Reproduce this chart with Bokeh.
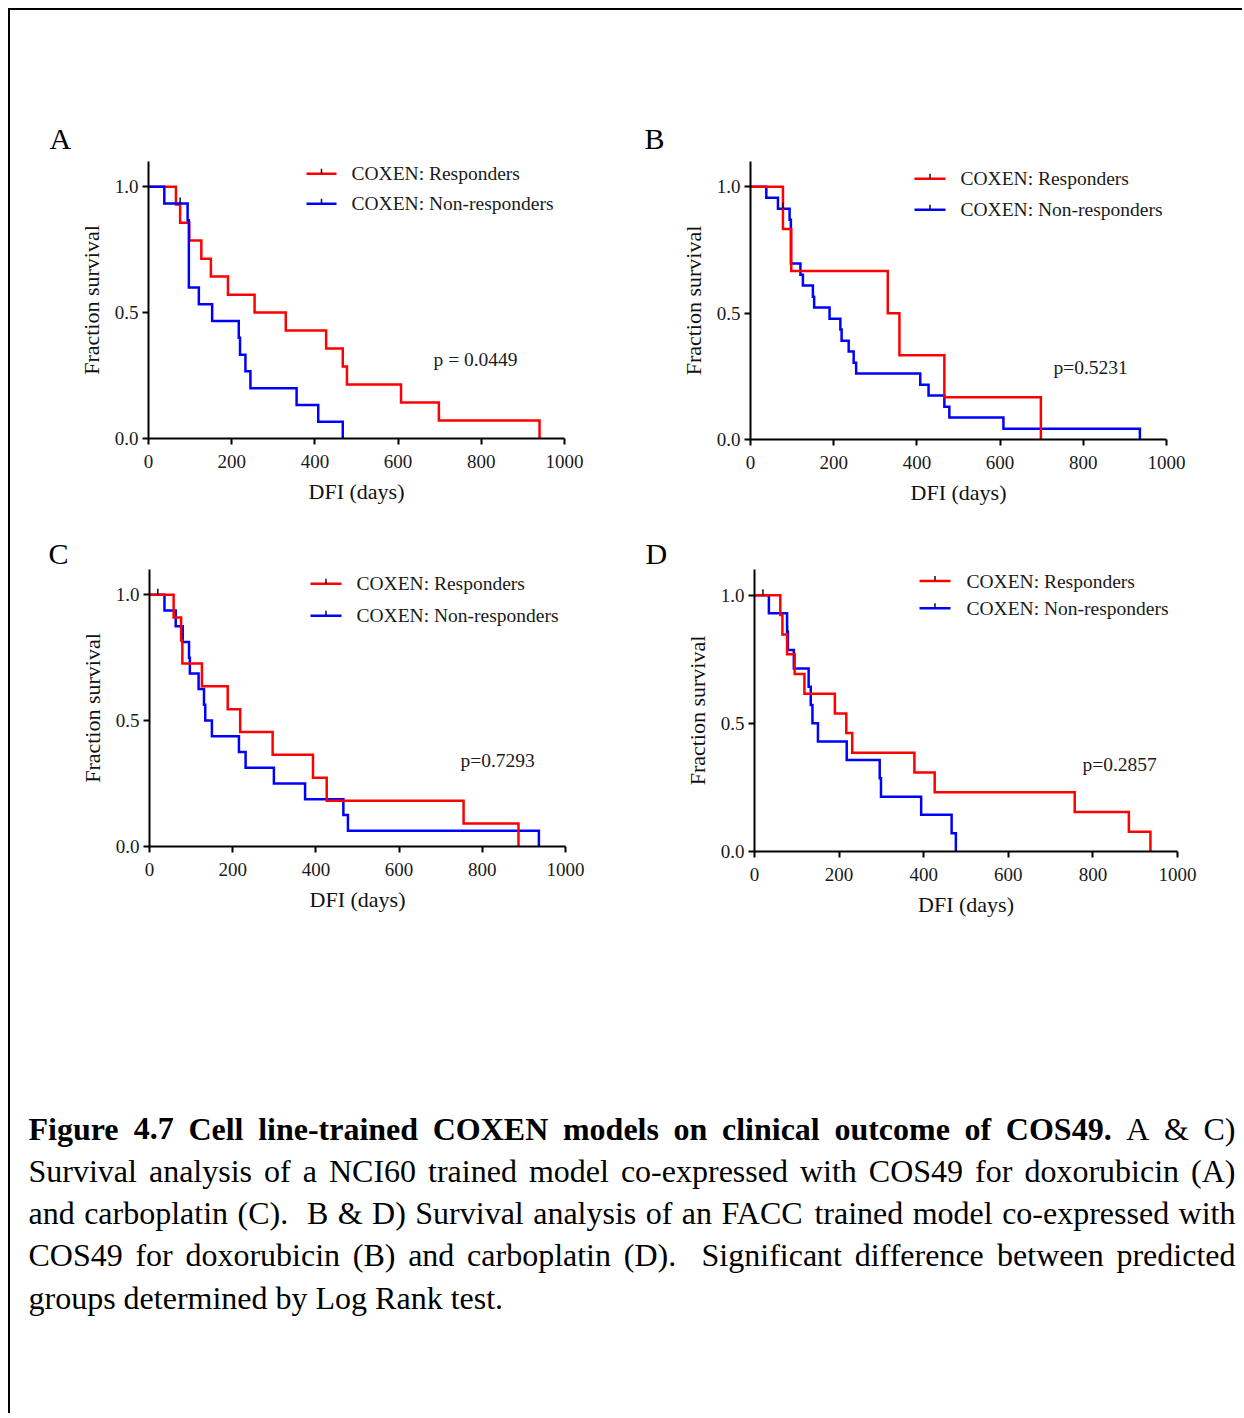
from bokeh.plotting import figure
from bokeh.layouts import row, column
from bokeh.models import Range1d, FixedTicker, NumeralTickFormatter
from bokeh.embed import file_html
from bokeh.resources import INLINE
from bokeh.core.properties import value

SERIF = "Liberation Serif"
RED = "#ff0000"
BLUE = "#0000ff"

# ------------------------------------------------------------------ data
x_ticks = [0, 200, 400, 600, 800, 1000]
y_ticks = [0.0, 0.5, 1.0]
x_title = "DFI (days)"
y_title = "Fraction survival"
legend_labels = ["COXEN: Responders", "COXEN: Non-responders"]
panel_letters = ["A", "B", "C", "D"]
p_texts = ["p = 0.0449", "p=0.5231", "p=0.7293", "p=0.2857"]

# Panel A (NCI60 model, doxorubicin)
a_resp_days = [66, 76, 98, 127, 150, 191, 255, 330, 427, 467, 477, 607, 698, 940]
a_resp_surv = [0.929, 0.857, 0.786, 0.714, 0.643, 0.571, 0.500, 0.429, 0.357, 0.286, 0.214, 0.143, 0.071, 0.0]
a_non_days = [38, 94, 97, 121, 153, 217, 220, 233, 245, 356, 408, 467]
a_non_surv = [0.933, 0.867, 0.600, 0.533, 0.467, 0.400, 0.333, 0.267, 0.200, 0.133, 0.067, 0.0]
a_censor_days = [76]
a_censor_surv = [0.933]

# Panel B (FACC model, doxorubicin)
b_resp_days = [78, 98, 330, 358, 466, 698]
b_resp_surv = [0.833, 0.667, 0.500, 0.333, 0.167, 0.0]
b_non_days = [38, 66, 94, 97, 120, 126, 150, 153, 190, 216, 219, 236, 248, 254, 408, 428, 466, 478, 608, 936]
b_non_surv = [0.957, 0.913, 0.870, 0.696, 0.652, 0.609, 0.565, 0.522, 0.478, 0.435, 0.391, 0.348,
              0.304, 0.261, 0.217, 0.174, 0.130, 0.087, 0.043, 0.0]
b_censor_days = [78]
b_censor_surv = [0.913]

# Panel C (NCI60 model, carboplatin)
c_resp_days = [58, 76, 79, 126, 188, 218, 296, 393, 426, 755, 887]
c_resp_surv = [0.909, 0.818, 0.727, 0.636, 0.545, 0.455, 0.364, 0.273, 0.182, 0.091, 0.0]
c_non_days = [36, 63, 80, 95, 97, 118, 131, 134, 150, 215, 231, 299, 374, 466, 477, 936]
c_non_surv = [0.9375, 0.875, 0.8125, 0.75, 0.6875, 0.625, 0.5625, 0.5, 0.4375, 0.375, 0.3125,
              0.25, 0.1875, 0.125, 0.0625, 0.0]
c_censor_days = [20]
c_censor_surv = [1.0]

# Panel D (FACC model, carboplatin)
d_resp_days = [61, 66, 77, 95, 118, 190, 217, 231, 378, 426, 757, 885, 936]
d_resp_surv = [0.923, 0.846, 0.769, 0.692, 0.615, 0.538, 0.462, 0.385, 0.308, 0.231, 0.154, 0.077, 0.0]
d_non_days = [34, 77, 79, 93, 128, 133, 137, 150, 218, 296, 299, 394, 466, 476]
d_non_surv = [0.929, 0.857, 0.786, 0.714, 0.643, 0.571, 0.500, 0.429, 0.357, 0.286, 0.214, 0.143, 0.071, 0.0]
d_censor_days = [20, 78]
d_censor_surv = [1.0, 0.857]

caption_lines = [
    [("Figure 4.7 Cell line-trained COXEN models on clinical outcome of COS49.", True), ("A & C)", False)],
    [("Survival analysis of a NCI60 trained model co-expressed with COS49 for doxorubicin (A)", False)],
    [("and carboplatin (C).  B & D) Survival analysis of an FACC trained model co-expressed with", False)],
    [("COS49 for doxorubicin (B) and carboplatin (D).  Significant difference between predicted", False)],
    [("groups determined by Log Rank test.", False)],
]
caption_justify = [True, True, True, True, False]

# ------------------------------------------------------------------ layout constants (page px)
OX, OY = 10, 10          # top-left of content (8px margin + 2px border)
SPLIT_X = 622
RIGHT_EDGE = 1242
ROW1_BOTTOM = 525
ROW2_BOTTOM = 935
CAP_H = 478
Y_TOP = 1.1

# fig_left, fig_top, fig_w, fig_h, x0(day0), x1(day1000), y0(surv0), y1(surv1)
panels_geom = [
    (OX, OY, SPLIT_X - OX, ROW1_BOTTOM - OY, 148, 564, 438, 186),
    (SPLIT_X, OY, RIGHT_EDGE - SPLIT_X, ROW1_BOTTOM - OY, 750, 1166, 439, 186),
    (OX, ROW1_BOTTOM, SPLIT_X - OX, ROW2_BOTTOM - ROW1_BOTTOM, 149, 565, 846, 594),
    (SPLIT_X, ROW1_BOTTOM, RIGHT_EDGE - SPLIT_X, ROW2_BOTTOM - ROW1_BOTTOM, 754, 1177, 851, 595),
]
# panel letter: left x, title standoff, title line height (fitted to the reference placement)
letter_x = [49, 644, 48, 645]
letter_standoff = [13, 13, 0, 0]
letter_line_height = [1.2, 1.2, 2.0, 2.0]
legend_line_x = [(306, 336), (914, 945), (310, 341), (919, 950)]
legend_text_x = [351, 960, 356, 966]
legend_rows_y = [(173, 203), (178, 209), (583, 615), (581, 608)]
p_pos = [(433, 359), (1053, 367), (460, 760), (1082, 764)]
red_on_top = [False, True, True, True]

series = [
    (a_resp_days, a_resp_surv, a_non_days, a_non_surv, a_censor_days, a_censor_surv),
    (b_resp_days, b_resp_surv, b_non_days, b_non_surv, b_censor_days, b_censor_surv),
    (c_resp_days, c_resp_surv, c_non_days, c_non_surv, c_censor_days, c_censor_surv),
    (d_resp_days, d_resp_surv, d_non_days, d_non_surv, d_censor_days, d_censor_surv),
]


def make_panel(i):
    fl, ft, fw, fh, x0, x1, y0, y1 = panels_geom[i]
    ppu = y0 - y1
    top_border = int(round(y0 - Y_TOP * ppu - ft))
    p = figure(width=fw, height=fh, output_backend="svg", toolbar_location=None,
               x_range=Range1d(0, 1000), y_range=Range1d(0, Y_TOP),
               min_border_left=x0 - fl, min_border_right=fl + fw - x1,
               min_border_top=top_border, min_border_bottom=ft + fh - y0)
    p.outline_line_color = None
    p.grid.visible = False
    p.background_fill_color = "white"
    p.border_fill_color = "white"

    def dx(px):
        return (px - x0) / (x1 - x0) * 1000.0

    def dy(py):
        return (y0 - py) / ppu

    # panel letter as a left-aligned title
    p.title.text = panel_letters[i]
    p.title.text_font = SERIF
    p.title.text_font_size = "30px"
    p.title.text_font_style = "normal"
    p.title.text_color = "black"
    p.title.align = "left"
    p.title.offset = letter_x[i] - x0
    p.title.standoff = letter_standoff[i]
    p.title.text_line_height = letter_line_height[i]

    # axes
    p.xaxis.ticker = FixedTicker(ticks=x_ticks)
    p.yaxis.ticker = FixedTicker(ticks=y_ticks)
    p.yaxis.formatter = NumeralTickFormatter(format="0.0")
    for ax in (p.xaxis[0], p.yaxis[0]):
        ax.axis_line_width = 2
        ax.axis_line_color = "black"
        ax.major_tick_line_width = 2
        ax.major_tick_line_color = "black"
        ax.major_tick_out = 6
        ax.major_tick_in = 0
        ax.minor_tick_line_color = None
        ax.major_label_text_font = SERIF
        ax.major_label_text_font_size = "19px"
        ax.major_label_text_color = "#1a1a1a"
        ax.axis_label_text_font = SERIF
        ax.axis_label_text_font_size = "22px"
        ax.axis_label_text_font_style = "normal"
        ax.axis_label_text_color = "#111111"
    p.xaxis.axis_label = x_title
    p.yaxis.axis_label = y_title
    p.xaxis.major_label_standoff = 10
    p.yaxis.major_label_standoff = 4
    p.xaxis.axis_label_standoff = 8
    p.yaxis.axis_label_standoff = 8

    rd, rs, nd, ns, cd, cs = series[i]

    def draw_red():
        p.step(x=[0] + rd, y=[1.0] + rs, mode="after", line_color=RED, line_width=2.5,
               line_join="miter")

    def draw_blue():
        p.step(x=[0] + nd, y=[1.0] + ns, mode="after", line_color=BLUE, line_width=2.5,
               line_join="miter")

    if red_on_top[i]:
        draw_blue(); draw_red()
    else:
        draw_red(); draw_blue()

    # censor ticks
    tick_h = 6.0 / ppu
    p.segment(x0=cd, y0=cs, x1=cd, y1=[s + tick_h for s in cs], line_color="#111111", line_width=1.5)

    # legend
    lx0, lx1 = legend_line_x[i]
    for col, ly in zip([RED, BLUE], legend_rows_y[i]):
        p.segment(x0=[dx(lx0)], y0=[dy(ly)], x1=[dx(lx1)], y1=[dy(ly)], line_color=col, line_width=2.5)
        mid = dx((lx0 + lx1) / 2.0)
        p.segment(x0=[mid], y0=[dy(ly)], x1=[mid], y1=[dy(ly - 5)], line_color="#111111", line_width=1.5)
    p.text(x=[dx(legend_text_x[i])] * 2, y=[dy(v) for v in legend_rows_y[i]], text=legend_labels,
           text_font=value(SERIF), text_font_size="19.5px", text_baseline="middle", text_align="left",
           text_color="#1a1a1a")
    # p value
    px, py = p_pos[i]
    p.text(x=[dx(px)], y=[dy(py)], text=[p_texts[i]], text_font=value(SERIF), text_font_size="19.5px",
           text_baseline="middle", text_align="left", text_color="#1a1a1a")
    return p


figs = [make_panel(i) for i in range(4)]

# ------------------------------------------------------------------ caption
REG_LOWER = [444, 500, 444, 500, 444, 333, 500, 500, 278, 278, 500, 278, 778, 500, 500, 500, 500, 333,
             389, 278, 500, 500, 722, 500, 500, 444]
REG_UPPER = [722, 667, 667, 722, 611, 556, 722, 722, 333, 389, 722, 611, 889, 722, 722, 556, 722, 667,
             556, 611, 722, 722, 944, 722, 722, 611]
BOLD_LOWER = [500, 556, 444, 556, 444, 333, 500, 556, 278, 333, 556, 278, 833, 556, 500, 556, 556, 444,
              389, 333, 556, 500, 722, 500, 500, 444]
BOLD_UPPER = [722, 667, 722, 722, 667, 611, 778, 778, 389, 500, 778, 667, 944, 722, 778, 611, 778, 722,
              556, 667, 722, 722, 1000, 722, 722, 667]


def build_table(lower, upper, amp, colon):
    t = {}
    for k, ch in enumerate("abcdefghijklmnopqrstuvwxyz"):
        t[ch] = lower[k]
    for k, ch in enumerate("ABCDEFGHIJKLMNOPQRSTUVWXYZ"):
        t[ch] = upper[k]
    for ch in "0123456789":
        t[ch] = 500
    t.update({" ": 250, ".": 250, ",": 250, "-": 333, "(": 333, ")": 333, "&": amp, ":": colon})
    return t


W_REG = build_table(REG_LOWER, REG_UPPER, 778, 278)
W_BOLD = build_table(BOLD_LOWER, BOLD_UPPER, 833, 333)

CAP_SIZE = 32.0
CAP_LEFT = 28 - OX
CAP_RIGHT = 1236 - OX - 1
CAP_TOP = ROW2_BOTTOM
cap_centers = [1128, 1170, 1212, 1254, 1297]

cap = figure(width=RIGHT_EDGE - OX, height=CAP_H, output_backend="svg", toolbar_location=None,
             x_range=Range1d(0, RIGHT_EDGE - OX), y_range=Range1d(CAP_H, 0), min_border=0,
             x_axis_type=None, y_axis_type=None)
cap.outline_line_color = None
cap.grid.visible = False

xs_b, ys_b, ts_b, xs_n, ys_n, ts_n = [], [], [], [], [], []
for li, runs in enumerate(caption_lines):
    tokens = []
    for text, bold in runs:
        for w in text.split(" "):
            tokens.append((w, bold))
    widths = [sum((W_BOLD if b else W_REG).get(ch, 500) for ch in w) * CAP_SIZE / 1000.0
              for w, b in tokens]
    gaps = len(tokens) - 1
    if caption_justify[li]:
        gap = (CAP_RIGHT - CAP_LEFT - sum(widths)) / gaps
    else:
        gap = 250 * CAP_SIZE / 1000.0
    x = CAP_LEFT
    yc = cap_centers[li] - CAP_TOP
    for (w, b), wd in zip(tokens, widths):
        if w:
            if b:
                xs_b.append(x); ys_b.append(yc); ts_b.append(w)
            else:
                xs_n.append(x); ys_n.append(yc); ts_n.append(w)
        x += wd + gap

cap.text(x=xs_b, y=ys_b, text=ts_b, text_font=value(SERIF), text_font_size="32px",
         text_font_style="bold", text_baseline="middle", text_align="left", text_color="black")
cap.text(x=xs_n, y=ys_n, text=ts_n, text_font=value(SERIF), text_font_size="32px",
         text_font_style="normal", text_baseline="middle", text_align="left", text_color="black")

page = column(row(column(figs[0]), column(figs[1])),
              row(column(figs[2]), column(figs[3])),
              cap,
              styles={"border-top": "2px solid black", "border-left": "2px solid black",
                      "margin-left": "8px", "margin-top": "8px"})

open("out.html", "w").write(file_html(page, INLINE))
